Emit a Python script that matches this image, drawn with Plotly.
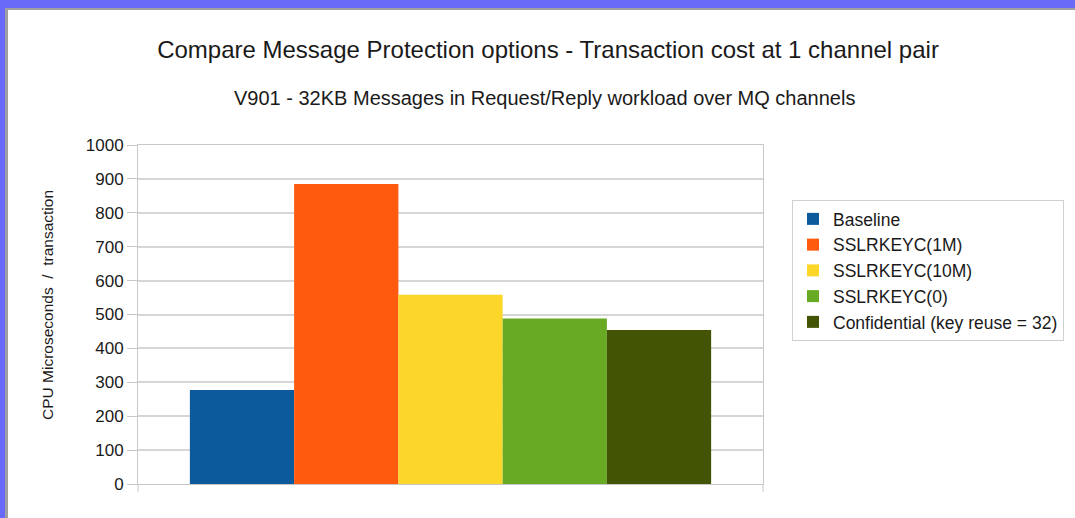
import plotly.graph_objects as go

# ---- data ----
series_names = ["Baseline", "SSLRKEYC(1M)", "SSLRKEYC(10M)", "SSLRKEYC(0)",
                "Confidential (key reuse = 32)"]
series_values = [277, 885, 558, 488, 454]
series_colors = ["#0C5A9C", "#FF5A0D", "#FDD62A", "#69AA24", "#435405"]
category = [""]
y_ticks = [0, 100, 200, 300, 400, 500, 600, 700, 800, 900, 1000]

title_text = "Compare Message Protection options - Transaction cost at 1 channel pair"
subtitle_text = "V901 - 32KB Messages in Request/Reply workload over MQ channels"
y_title = "CPU Microseconds  /  transaction"

W, H = 1075, 518
L, R, T, B = 138, 1075 - 763, 145, 518 - 484
PW, PH = W - L - R, H - T - B

def px_x(px):
    return (px - L) / PW

def px_y(py):
    return (H - B - py) / PH

FONT = "Liberation Sans, Arial, sans-serif"
TXT = "#1a1a1a"

fig = go.Figure()
for name, val, col in zip(series_names, series_values, series_colors):
    fig.add_trace(go.Bar(x=category, y=[val], name=name, marker_color=col,
                         marker_line_width=0))

shapes = [
    # purple frame
    dict(type="rect", xref="paper", yref="paper", x0=px_x(0), x1=px_x(W),
         y0=px_y(0), y1=px_y(8), fillcolor="#6A6AF8", line_width=0, layer="below"),
    dict(type="rect", xref="paper", yref="paper", x0=px_x(0), x1=px_x(5),
         y0=px_y(0), y1=px_y(H), fillcolor="#6A6AF8", line_width=0, layer="below"),
    dict(type="rect", xref="paper", yref="paper", x0=px_x(5), x1=px_x(W),
         y0=px_y(8), y1=px_y(10), fillcolor="#A0A0A0", line_width=0, layer="below"),
    dict(type="rect", xref="paper", yref="paper", x0=px_x(5), x1=px_x(8),
         y0=px_y(8), y1=px_y(H), fillcolor="#A0A0A0", line_width=0, layer="below"),
    # category-boundary ticks below axis
    dict(type="line", xref="paper", yref="paper", x0=0, x1=0, y0=0, y1=px_y(492),
         line=dict(color="#C8C8C8", width=1)),
    dict(type="line", xref="paper", yref="paper", x0=1, x1=1, y0=0, y1=px_y(492),
         line=dict(color="#C8C8C8", width=1)),
]

fig.update_layout(
    width=W, height=H,
    margin=dict(l=L, r=R, t=T, b=B, pad=0),
    paper_bgcolor="white", plot_bgcolor="white",
    font=dict(family=FONT, color=TXT),
    barmode="group", bargap=0.166, bargroupgap=0,
    title=dict(text=title_text, x=548 / W, xanchor="center", xref="container",
               y=1 - 50 / H, yanchor="middle", yref="container",
               font=dict(size=24, family=FONT, color=TXT)),
    annotations=[
        dict(text=subtitle_text, xref="paper", yref="paper", x=px_x(544), y=px_y(98),
             xanchor="center", yanchor="middle", showarrow=False,
             font=dict(size=20, family=FONT, color=TXT)),
        dict(text=y_title, xref="paper", yref="paper", x=px_x(47), y=px_y(305),
             xanchor="center", yanchor="middle", textangle=-90, showarrow=False,
             font=dict(size=15.5, family=FONT, color=TXT)),
    ],
    shapes=shapes,
    xaxis=dict(showticklabels=False, showgrid=False, zeroline=False,
               showline=True, linecolor="#C8C8C8", mirror=True, ticks=""),
    yaxis=dict(range=[0, 1000], tickvals=y_ticks, ticks="outside", ticklen=10,
               tickcolor="#C8C8C8", showgrid=True, gridcolor="#D6D6D6", gridwidth=1.5,
               zeroline=False, showline=True, linecolor="#C8C8C8", mirror=True,
               tickfont=dict(size=17, family=FONT, color=TXT)),
    legend=dict(xref="container", yref="container", x=792 / W, y=1 - 200 / H,
                xanchor="left", yanchor="top", bordercolor="#D0D0D0", borderwidth=1,
                bgcolor="white", font=dict(size=17.5, family=FONT, color=TXT),
                tracegroupgap=0, itemwidth=30, traceorder="normal"),
    showlegend=True,
)

fig.write_html("out.html", config={"displayModeBar": False},
               post_script="document.body.style.margin='0';document.body.style.padding='0';")
